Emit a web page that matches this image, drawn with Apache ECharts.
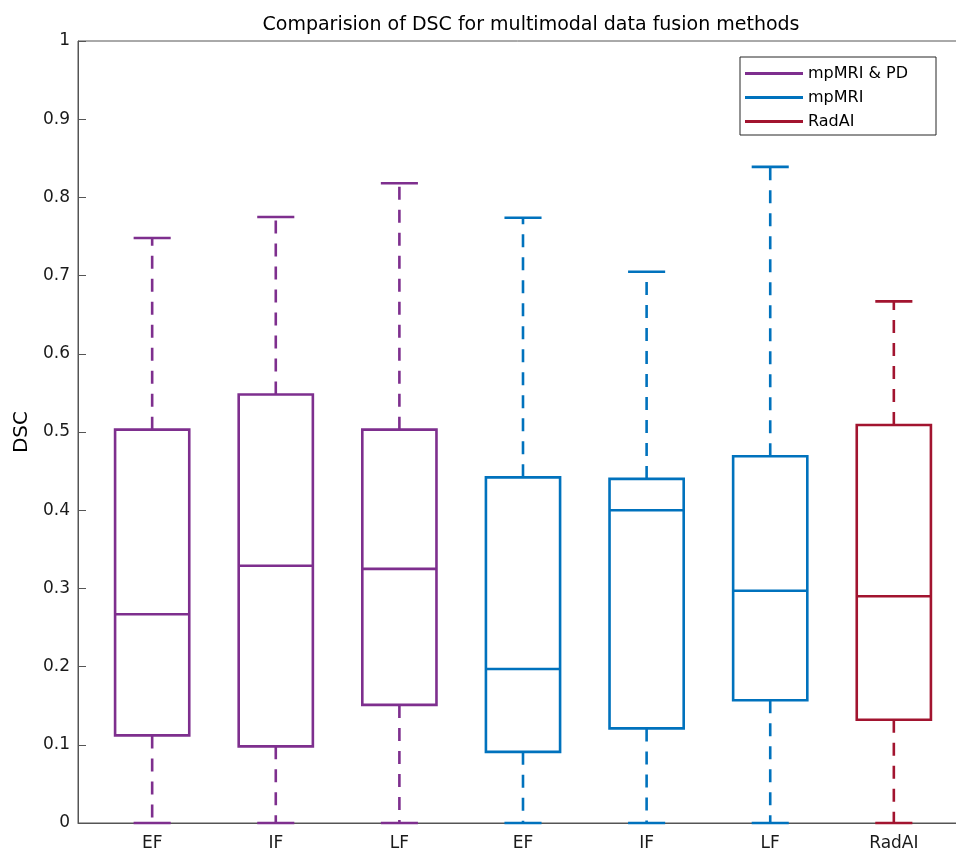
<!DOCTYPE html>
<html>
<head>
<meta charset="utf-8">
<script src="https://cdn.jsdelivr.net/npm/echarts@6/dist/echarts.min.js"></script>
<style>
html,body{margin:0;padding:0;background:#fff;overflow:hidden;}
#chart{width:956px;height:852px;}
</style>
</head>
<body>
<div id="chart"></div>
<script>
// ---- data ----
const categories = ['EF', 'IF', 'LF', 'EF', 'IF', 'LF', 'RadAI'];
const groupNames = ['mpMRI & PD', 'mpMRI', 'RadAI'];
const groupOfBox = [0, 0, 0, 1, 1, 1, 2];
const mins    = [0, 0, 0, 0, 0, 0, 0];
const q1s     = [0.112, 0.098, 0.151, 0.091, 0.121, 0.157, 0.132];
const medians = [0.267, 0.329, 0.325, 0.197, 0.400, 0.297, 0.290];
const q3s     = [0.503, 0.548, 0.503, 0.442, 0.440, 0.469, 0.509];
const maxs    = [0.748, 0.775, 0.818, 0.774, 0.705, 0.839, 0.667];
const yTicks  = [0, 0.1, 0.2, 0.3, 0.4, 0.5, 0.6, 0.7, 0.8, 0.9, 1];

const colors = ['#7E2F8E', '#0072BD', '#A2142F'];
const FONT = 'DejaVu Sans';

function renderBox(params, api) {
  const x = api.value(0);
  const color = api.visual('color');
  const pMin = api.coord([x, api.value(1)]);
  const pQ1 = api.coord([x, api.value(2)]);
  const pMed = api.coord([x, api.value(3)]);
  const pQ3 = api.coord([x, api.value(4)]);
  const pMax = api.coord([x, api.value(5)]);
  const w = api.size([0.6, 0])[0];
  const cx = pMed[0];
  const lw = 2.6;
  const solid = {stroke: color, lineWidth: lw, fill: null};
  const dashed = {stroke: color, lineWidth: lw, lineDash: [13, 10], fill: null};
  return {
    type: 'group',
    children: [
      {type: 'line', shape: {x1: cx, y1: pQ3[1], x2: cx, y2: pMax[1]}, style: dashed},
      {type: 'line', shape: {x1: cx, y1: pQ1[1], x2: cx, y2: pMin[1]}, style: dashed},
      {type: 'line', shape: {x1: cx - w / 4, y1: pMax[1], x2: cx + w / 4, y2: pMax[1]}, style: solid},
      {type: 'line', shape: {x1: cx - w / 4, y1: pMin[1], x2: cx + w / 4, y2: pMin[1]}, style: solid},
      {type: 'rect', shape: {x: cx - w / 2, y: pQ3[1], width: w, height: pQ1[1] - pQ3[1]}, style: solid},
      {type: 'line', shape: {x1: cx - w / 2, y1: pMed[1], x2: cx + w / 2, y2: pMed[1]}, style: solid}
    ]
  };
}

const series = groupNames.map((name, g) => {
  const data = [];
  categories.forEach((c, i) => {
    if (groupOfBox[i] === g) data.push([i + 1, mins[i], q1s[i], medians[i], q3s[i], maxs[i]]);
  });
  return {
    name: name,
    type: 'custom',
    renderItem: renderBox,
    itemStyle: {color: colors[g]},
    encode: {x: 0, y: [1, 2, 3, 4, 5]},
    data: data,
    clip: false,
    z: 3
  };
});

const chart = echarts.init(document.getElementById('chart'), null, {renderer: 'canvas'});
chart.setOption({
  animation: false,
  backgroundColor: '#fff',
  textStyle: {fontFamily: FONT},
  title: {
    text: 'Comparision of DSC for multimodal data fusion methods',
    left: 526, top: 11, textAlign: 'center',
    textStyle: {fontFamily: FONT, fontSize: 19, fontWeight: 'normal', color: '#000'}
  },
  legend: {
    orient: 'vertical',
    left: 740, top: 57,
    padding: [7, 28, 4, 5],
    itemGap: 5,
    itemWidth: 58, itemHeight: 3,
    icon: 'rect',
    borderColor: '#262626', borderWidth: 1,
    backgroundColor: '#fff',
    textStyle: {fontFamily: FONT, fontSize: 16, color: '#000', lineHeight: 19},
    data: groupNames
  },
  grid: {
    left: 78, top: 41, height: 782, width: 890,
    containLabel: false,
    outerBoundsMode: 'none',
    show: true, borderColor: '#555', borderWidth: 1, backgroundColor: 'transparent'
  },
  xAxis: {
    type: 'value', min: 0.4, max: 7.6,
    axisLine: {show: true, lineStyle: {color: '#555', width: 1}},
    axisTick: {show: false},
    splitLine: {show: false},
    axisLabel: {
      customValues: [1, 2, 3, 4, 5, 6, 7],
      formatter: v => categories[Math.round(v) - 1],
      margin: 12,
      fontFamily: FONT, fontSize: 17, color: '#1a1a1a'
    }
  },
  yAxis: {
    type: 'value', min: 0, max: 1, interval: 0.1,
    name: 'DSC', nameLocation: 'middle', nameGap: 42, nameRotate: 90,
    nameTextStyle: {fontFamily: FONT, fontSize: 20, color: '#000'},
    axisLine: {show: true, lineStyle: {color: '#555', width: 1}},
    axisTick: {show: true, inside: true, length: 8, lineStyle: {color: '#555'}},
    splitLine: {show: false},
    axisLabel: {
      customValues: yTicks,
      formatter: v => String(+v.toFixed(1)),
      margin: 8,
      fontFamily: FONT, fontSize: 17, color: '#1a1a1a'
    }
  },
  series: series
});
</script>
</body>
</html>
